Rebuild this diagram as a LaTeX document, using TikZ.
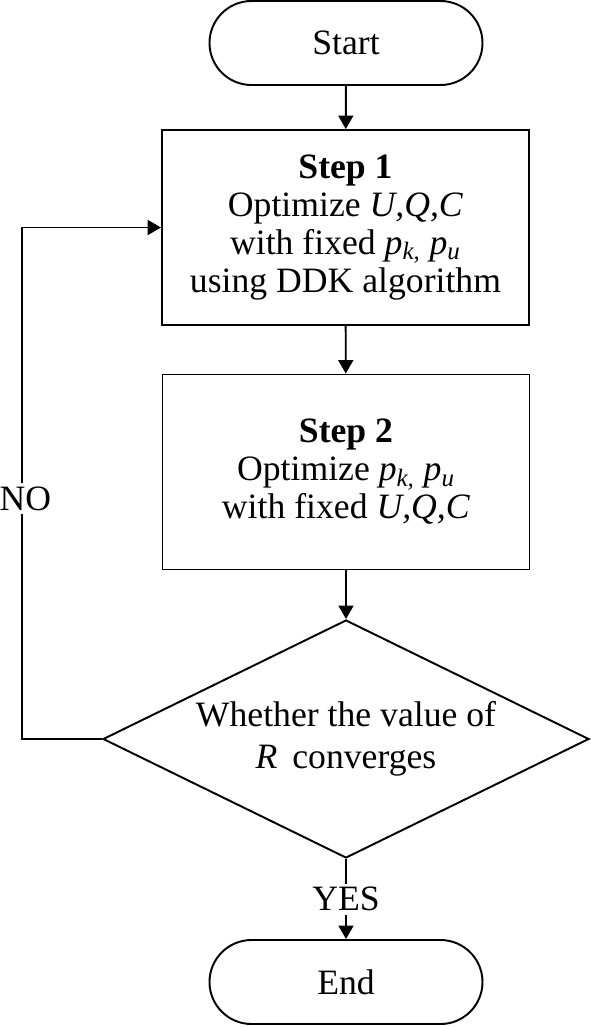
\documentclass[tikz,border=0pt]{standalone}
\usepackage{fontspec}
\setmainfont{Liberation Serif}
\usetikzlibrary{arrows.meta,shapes.geometric}

\begin{document}
\begin{tikzpicture}[
    terminal/.style={rectangle, draw=black, line width=1.1pt, rounded corners=0.84cm, minimum width=5.46cm, minimum height=1.68cm},
    stepnode/.style={rectangle, draw=black, line width=1.1pt, minimum width=7.34cm, minimum height=3.9cm, align=center},
    decision/.style={diamond, draw=black, line width=1.1pt, shape aspect=2.04, inner sep=0pt, minimum width=9.72cm, minimum height=4.76cm, align=center}
    ]
    \tikzset{every node/.style={font=\fontsize{20.3}{21.6}\selectfont}}
    \tikzset{flow/.style={line width=1.1pt, -{Triangle[length=0.27cm, width=0.3cm]}}}
    \tikzset{tag/.style={fill=white, inner sep=2pt}}
    \useasboundingbox (0,0) rectangle (11.8,-20.52);
    %
    %nodes
    %
    \node[terminal] (start) at (6.92,-0.86) {Start};
    \node[stepnode] (step1) at (6.91,-4.55) {\textbf{Step 1}\\Optimize \textit{U,Q,C}\\with fixed \textit{p}\textsubscript{\textit{k,}} \textit{p}\textsubscript{\textit{u}}\\using DDK algorithm};
    \node[stepnode] (step2) at (6.92,-9.44) {\textbf{Step 2}\\Optimize \textit{p}\textsubscript{\textit{k,}} \textit{p}\textsubscript{\textit{u}}\\with fixed \textit{U,Q,C}};
    \node[decision] (check) at (6.92,-14.78) {Whether the value of\\[2pt]\textit{R}\, converges};
    \node[terminal] (stop) at (6.92,-19.64) {End};
    \coordinate (loop) at (0.44,-14.78);
    %
    %edges
    %
    \draw[flow] (start) to (step1);
    \draw[flow] (step1) to (step2);
    \draw[flow] (step2) to (check);
    \draw[flow] (check) to node[tag] {YES} (stop);
    \draw[flow] (check.west) -- (loop) |- node[tag, pos=0.235, inner xsep=0pt, xshift=0.07cm] {NO} (step1.west);
\end{tikzpicture}
\end{document}
